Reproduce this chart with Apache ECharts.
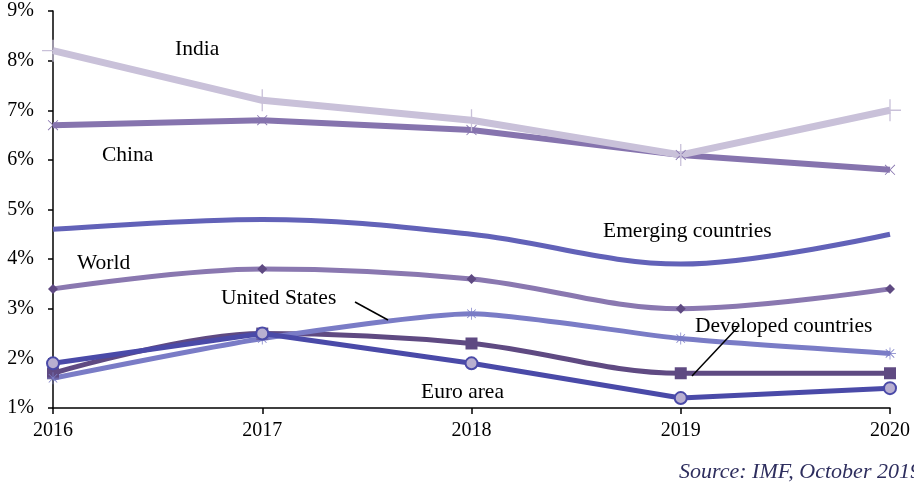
<!DOCTYPE html>
<html><head><meta charset="utf-8">
<script src="https://cdn.jsdelivr.net/npm/echarts@6/dist/echarts.min.js"></script>
<style>html,body{margin:0;padding:0;background:#fff}#c{width:914px;height:483px}</style>
</head><body><div id="c"></div>
<script>
const years = ['2016','2017','2018','2019','2020'];
const india = [8.2, 7.2, 6.8, 6.1, 7.0];
const china = [6.7, 6.8, 6.6, 6.1, 5.8];
const emerging = [4.6, 4.8, 4.5, 3.9, 4.5];
const world = [3.4, 3.8, 3.6, 3.0, 3.4];
const unitedStates = [1.6, 2.4, 2.9, 2.4, 2.1];
const developed = [1.7, 2.5, 2.3, 1.7, 1.7];
const euroArea = [1.9, 2.5, 1.9, 1.2, 1.4];
const yTicks = [1, 9, 1];

const FONT = '"Liberation Serif", "DejaVu Serif", serif';
const plus = 'path://M-0.6,-10h1.2v20h-1.2z M-10,-0.6h20v1.2h-20z';
const star = 'path://M-0.6,-10h1.2v20h-1.2z M-10,-0.6h20v1.2h-20z M-7.5,-6.6L-6.6,-7.5L7.5,6.6L6.6,7.5z M6.6,-7.5L7.5,-6.6L-6.6,7.5L-7.5,6.6z';

const chart = echarts.init(document.getElementById('c'));
function ser(name, data, color, width, opts) {
  return Object.assign({
    name, type: 'line', data,
    lineStyle: {color, width},
    itemStyle: {color},
    symbol: 'none',
    smooth: false,
    animation: false,
    z: 2
  }, opts || {});
}
function label(text, x, yc) {
  return {type: 'text', x: x, y: yc, style: {text, font: '21.5px ' + FONT, fill: '#000', textVerticalAlign: 'middle', verticalAlign: 'middle'}, z: 10};
}
chart.setOption({
  animation: false,
  grid: {left: 53, right: 24, top: 11, bottom: 75},
  xAxis: {
    type: 'category', data: years, boundaryGap: false,
    axisLine: {lineStyle: {color: '#000', width: 1.5}},
    axisTick: {show: true, length: 6, lineStyle: {color: '#000', width: 1.5}},
    axisLabel: {color: '#000', fontFamily: FONT, fontSize: 20, margin: 13}
  },
  yAxis: {
    type: 'value', min: yTicks[0], max: yTicks[1], interval: yTicks[2],
    axisLine: {show: true, lineStyle: {color: '#000', width: 1.5}},
    axisTick: {show: true, length: 5, lineStyle: {color: '#000', width: 1.5}},
    splitLine: {show: false},
    axisLabel: {color: '#000', fontFamily: FONT, fontSize: 20, margin: 19, formatter: '{value}%'}
  },
  series: [
    ser('Developed countries', developed, '#5f4a82', 5, {smooth: 0.35, symbol: 'rect', symbolSize: 12, itemStyle: {color: '#5f4a82'}}),
    ser('United States', unitedStates, '#7a7cc6', 5, {smooth: 0.2, symbol: star, symbolSize: 12, itemStyle: {color: '#7a7cc6'}}),
    ser('Euro area', euroArea, '#4a4aa8', 5, {symbol: 'circle', symbolSize: 12, itemStyle: {color: '#b8afd0', borderColor: '#4a4aa8', borderWidth: 2}}),
    ser('World', world, '#8a78b0', 5, {smooth: 0.35, symbol: 'diamond', symbolSize: 10, itemStyle: {color: '#5f4a82'}}),
    ser('Emerging countries', emerging, '#6262b8', 5, {smooth: 0.35}),
    ser('China', china, '#8674ae', 6, {symbol: plus, symbolRotate: 45, symbolSize: 14, itemStyle: {color: '#8674ae'}}),
    ser('India', india, '#c9c1d9', 7, {symbol: plus, symbolSize: 22, itemStyle: {color: '#c9c1d9'}})
  ],
  graphic: [
    label('India', 175, 49),
    label('China', 102, 155),
    label('Emerging countries', 603, 231),
    label('World', 77, 263),
    label('United States', 221, 298),
    label('Developed countries', 695, 326),
    label('Euro area', 421, 392),
    {type: 'line', shape: {x1: 355, y1: 302, x2: 388, y2: 320}, style: {stroke: '#000', lineWidth: 1.5}, z: 10},
    {type: 'line', shape: {x1: 738, y1: 327, x2: 692, y2: 376}, style: {stroke: '#000', lineWidth: 1.5}, z: 10},
    {type: 'text', x: 679, y: 472, style: {text: 'Source: IMF, October 2019', font: 'italic 22px ' + FONT, fill: '#2e2e5e', textVerticalAlign: 'middle', verticalAlign: 'middle'}, z: 10}
  ]
});
</script></body></html>
